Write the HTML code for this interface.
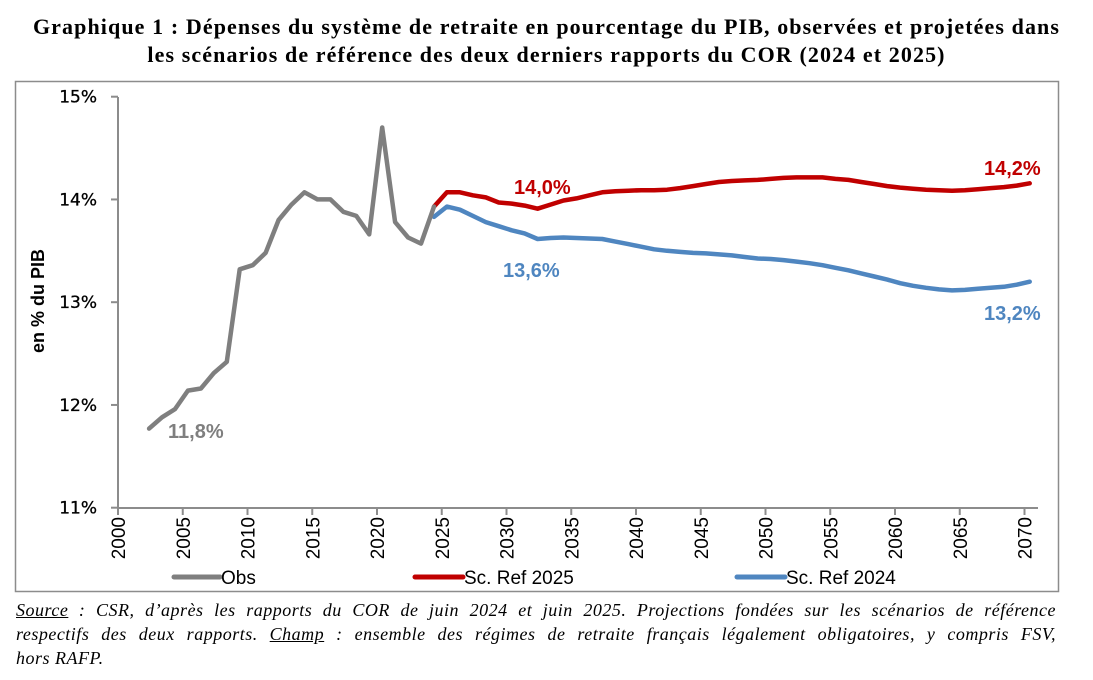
<!DOCTYPE html>
<html><head><meta charset="utf-8">
<style>
body{margin:0;background:#fff;width:1093px;height:680px;overflow:hidden;position:relative;font-family:"Liberation Serif",serif}
.title{position:absolute;left:0;top:13px;width:1093px;text-align:center;font-weight:bold;font-size:22px;letter-spacing:1.1px;line-height:28px;color:#000;white-space:nowrap}
.foot{position:absolute;left:16px;top:598px;width:1040px;font-style:italic;font-size:18px;letter-spacing:0.5px;line-height:24px;color:#000}
.foot div{text-align:justify;text-align-last:justify;white-space:nowrap}
.foot div.last{text-align-last:left}
svg{position:absolute;left:0;top:0}
</style></head><body>
<div class="title">Graphique 1 : Dépenses du système de retraite en pourcentage du PIB, observées et projetées dans<br>les scénarios de référence des deux derniers rapports du COR (2024 et 2025)</div>
<svg width="1093" height="680" id="chart"></svg>
<div class="foot">
<div><u>Source</u> : CSR, d’après les rapports du COR de juin 2024 et juin 2025. Projections fondées sur les scénarios de référence</div>
<div>respectifs des deux rapports. <u>Champ</u> : ensemble des régimes de retraite français légalement obligatoires, y compris FSV,</div>
<div class="last">hors RAFP.</div>
</div>
<script>
const obsYears=[2002,2003,2004,2005,2006,2007,2008,2009,2010,2011,2012,2013,2014,2015,2016,2017,2018,2019,2020,2021,2022,2023,2024];
const obsValues=[11.77,11.88,11.96,12.14,12.16,12.31,12.42,13.32,13.36,13.48,13.80,13.95,14.07,14.00,14.00,13.88,13.84,13.66,14.70,13.78,13.63,13.57,13.93];
const projStart=2024;
const ref2025=[13.93,14.07,14.07,14.04,14.02,13.97,13.96,13.94,13.91,13.95,13.99,14.01,14.04,14.07,14.08,14.085,14.09,14.09,14.095,14.11,14.13,14.15,14.17,14.18,14.185,14.19,14.20,14.21,14.215,14.215,14.215,14.20,14.19,14.17,14.15,14.13,14.115,14.105,14.095,14.09,14.085,14.09,14.10,14.11,14.12,14.135,14.157];
const ref2024=[13.83,13.93,13.90,13.84,13.78,13.74,13.70,13.67,13.615,13.625,13.63,13.625,13.62,13.615,13.59,13.565,13.54,13.515,13.50,13.49,13.48,13.475,13.465,13.455,13.44,13.425,13.42,13.41,13.395,13.38,13.36,13.335,13.31,13.28,13.25,13.22,13.185,13.16,13.14,13.125,13.115,13.12,13.13,13.14,13.15,13.17,13.20];
const yTicks=[11,12,13,14,15];
const yTickLabels=["11%","12%","13%","14%","15%"];
const xTicks=[2000,2005,2010,2015,2020,2025,2030,2035,2040,2045,2050,2055,2060,2065,2070];

const svg=document.getElementById('chart');
const NS='http://www.w3.org/2000/svg';
function X(yr){return 118+(yr-2000+0.4)*12.95;}
function XT(yr){return 118+(yr-2000)*12.95;}
function Y(v){return 507.7-(v-11)*102.75;}
function mk(tag,attrs){const e=document.createElementNS(NS,tag);for(const k in attrs)e.setAttribute(k,attrs[k]);svg.appendChild(e);return e;}

let f=mk('rect',{x:15.5,y:81.5,width:1043,height:510,fill:'none',stroke:'#8c8c8c','stroke-width':1.5});


let ya=mk('line',{x1:118,y1:97,x2:118,y2:508,stroke:'#8c8c8c','stroke-width':2});


let xa=mk('line',{x1:117,y1:508,x2:1038,y2:508,stroke:'#8c8c8c','stroke-width':2});


yTicks.forEach((v,i)=>{
  let t=mk('line',{x1:111,x2:118,y1:Y(v),y2:Y(v),stroke:'#8c8c8c','stroke-width':2});
  
  
  let l=mk('text',{x:97,y:Y(v)+6,'text-anchor':'end','font-family':'DejaVu Sans, sans-serif','font-size':17,'stroke':'#000','stroke-width':0.3,fill:'#000'});
  l.textContent=yTickLabels[i];
  
  
});
xTicks.forEach(yr=>{
  const x=XT(yr);
  let t=mk('line',{x1:x,x2:x,y1:508,y2:515,stroke:'#8c8c8c','stroke-width':2});
  
  
  let l=mk('text',{x:0,y:0,transform:`translate(${x+7},517) rotate(-90)`,'text-anchor':'end','font-family':'Liberation Sans, sans-serif','font-size':19,fill:'#000'});
  l.textContent=String(yr);
  
  
});
let yt=mk('text',{x:0,y:0,transform:'translate(44,301) rotate(-90)','text-anchor':'middle','font-family':'Liberation Sans, sans-serif','font-weight':'bold','font-size':18,fill:'#000'});
yt.textContent='en % du PIB';



function line(years,vals,color,name){
  const d=vals.map((v,i)=>(i?'L':'M')+X(years[i]).toFixed(1)+','+Y(v).toFixed(1)).join('');
  let p=mk('path',{d:d,fill:'none',stroke:color,'stroke-width':4.5,'stroke-linejoin':'round','stroke-linecap':'round'});
  
  
}
const projYears=ref2025.map((_,i)=>projStart+i);
line(projYears,ref2024,'#4f86c0','series-ref-2024');
line(projYears,ref2025,'#c00000','series-ref-2025');
line(obsYears,obsValues,'#7f7f7f','series-obs');

function lab(x,y,txt,color,name){
  let t=mk('text',{x:x,y:y,'font-family':'Liberation Sans, sans-serif','font-weight':'bold','font-size':20,fill:color});
  t.textContent=txt;
  
  
}
lab(168,438,'11,8%','#7f7f7f','label-obs-2002');
lab(514,194,'14,0%','#c00000','label-ref2025-2032');
lab(503,277,'13,6%','#4f86c0','label-ref2024-2032');
lab(984,175,'14,2%','#c00000','label-ref2025-2070');
lab(984,320,'13,2%','#4f86c0','label-ref2024-2070');

function leg(x1,x2,color,txt,name){
  let l=mk('line',{x1:x1,x2:x2,y1:577,y2:577,stroke:color,'stroke-width':5,'stroke-linecap':'round'});
  
  
  let t=mk('text',{x:x2+1,y:584,'font-family':'Liberation Sans, sans-serif','font-size':19,fill:'#000'});
  t.textContent=txt;
  
  
}
leg(174,220,'#7f7f7f','Obs','legend-obs');
leg(415,463,'#c00000','Sc. Ref 2025','legend-ref-2025');
leg(737,785,'#4f86c0','Sc. Ref 2024','legend-ref-2024');
</script>
</body></html>
